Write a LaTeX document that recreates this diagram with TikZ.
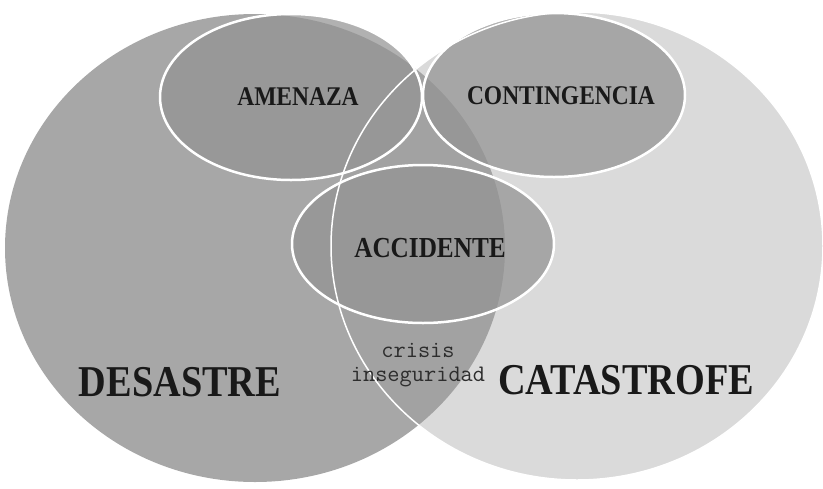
\documentclass[tikz,border=0pt]{standalone}
\usepackage{fontspec}
\newfontfamily\stencilfont{Liberation Serif}[FakeStretch=0.87]
\definecolor{catfill}{RGB}{218,218,218}
\definecolor{desfill}{RGB}{155,155,155}
\definecolor{smallfill}{RGB}{148,148,148}
\definecolor{inkc}{RGB}{25,25,25}
\definecolor{softink}{RGB}{45,45,45}
\tikzset{
  bigtitle/.style={font=\stencilfont\bfseries\fontsize{44}{44}\selectfont, text=inkc, inner sep=0pt},
  smalltitle/.style={font=\stencilfont\bfseries\fontsize{27}{27}\selectfont, text=inkc, inner sep=0pt},
  smallell/.style={fill=smallfill, fill opacity=0.73},
  ellline/.style={draw=white, line width=2.5pt},
  noteword/.style={font=\ttfamily\fontsize{23.7}{24}\selectfont, text=softink, align=center, inner sep=0pt}
}
\begin{document}
\begin{tikzpicture}[x=1pt,y=-1pt]
\useasboundingbox (0,0) rectangle (823,488);
% fills
\fill[catfill] (577,246) ellipse [x radius=246, y radius=234];
\fill[desfill, fill opacity=0.88] (255,248) ellipse [x radius=250, y radius=234];
\fill[smallell] (291,97) ellipse [x radius=131, y radius=83];
\fill[smallell] (554,95) ellipse [x radius=131, y radius=82];
\fill[smallell] (423,244) ellipse [x radius=131, y radius=79];
% outlines
\draw[draw=white, line width=1.5pt] (577,246) ellipse [x radius=246, y radius=234];
\draw[ellline] (291,97) ellipse [x radius=131, y radius=83];
\draw[ellline] (554,95) ellipse [x radius=131, y radius=82];
\draw[ellline] (423,244) ellipse [x radius=131, y radius=79];
% texts
\node[smalltitle] (amenaza) at (298,97) {AMENAZA};
\node[smalltitle] (contingencia) at (561,96) {CONTINGENCIA};
\node[smalltitle, font=\stencilfont\bfseries\fontsize{29}{29}\selectfont] (accidente) at (430,248) {ACCIDENTE};
\node[bigtitle] (desastre) at (180,382) {DESASTRE};
\node[bigtitle] (catastrofe) at (626,380) {CATASTROFE};
\node[noteword] (crisis) at (418,365) {crisis\\inseguridad};
\end{tikzpicture}
\end{document}
